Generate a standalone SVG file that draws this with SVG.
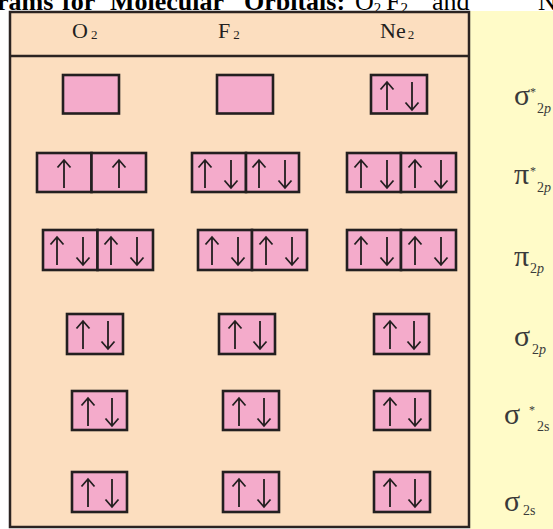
<svg xmlns="http://www.w3.org/2000/svg" xmlns:xlink="http://www.w3.org/1999/xlink" width="553" height="529" viewBox="0 0 553 529">
<style>
.orb{fill:#f4abcb;stroke:#231f20;stroke-width:2.6}
.ar{fill:none;stroke:#231f20;stroke-width:1.8;stroke-linejoin:miter}
.hd{font-family:"Liberation Serif",serif;font-size:22px;fill:#231f20}
.hs{font-size:13px}
.lb{font-family:"Liberation Serif",serif;font-size:30px;fill:#3a3a3a}
.sb{font-family:"Liberation Serif",serif;font-size:14px;fill:#3a3a3a}
.st{font-family:"Liberation Serif",serif;font-size:12px;fill:#3a3a3a}
.tt{font-family:"Liberation Serif",serif;font-size:26px;fill:#000}
</style>
<defs>
<path id="up" class="ar" d="M0,-14 V14 M-6.5,-6.5 L0,-14 L6.5,-6.5"/>
<path id="dn" class="ar" d="M0,-14 V14 M-6.5,6.5 L0,14 L6.5,6.5"/>
</defs>
<rect x="0" y="0" width="553" height="529" fill="#ffffff"/>
<g id="title">
<text class="tt" y="10"><tspan x="-3" font-weight="bold">rams</tspan><tspan x="62" font-weight="bold">for</tspan><tspan x="110" font-weight="bold">Molecular</tspan><tspan x="244" font-weight="bold">Orbitals:</tspan><tspan x="355">O</tspan><tspan font-size="15" dy="3">2</tspan><tspan x="386" dy="-3">F</tspan><tspan font-size="15" dy="3">2</tspan><tspan x="432" dy="-3">and</tspan><tspan x="538">N</tspan></text>
</g>
<g id="panel">
<rect x="470" y="11" width="83" height="518" fill="#fffbc8"/>
</g>
<g id="table">
<rect x="10" y="12" width="459" height="515" fill="#fcdebf" stroke="#2b2321" stroke-width="2.5"/>
<line x1="10" y1="56" x2="469" y2="56" stroke="#2b2321" stroke-width="2.5"/>
</g>
<g id="headers">
<text class="hd" x="72" y="38">O<tspan class="hs" dx="3" dy="1">2</tspan></text>
<text class="hd" x="218" y="38">F<tspan class="hs" dx="3" dy="1">2</tspan></text>
<text class="hd" x="380" y="38">Ne<tspan class="hs" dx="2" dy="1">2</tspan></text>
</g>
<g id="row-s2p-star">
<rect class="orb" x="63" y="75" width="56" height="38.5"/>
<rect class="orb" x="217" y="75" width="56" height="38.5"/>
<rect class="orb" x="371" y="75" width="56" height="38.5"/>
<use xlink:href="#up" x="387" y="96"/><use xlink:href="#dn" x="412" y="96"/>
</g>
<g id="row-p2p-star">
<rect class="orb" x="37" y="153" width="54.5" height="39"/><rect class="orb" x="91.5" y="153" width="54.5" height="39"/>
<use xlink:href="#up" x="64" y="174"/><use xlink:href="#up" x="119" y="174"/>
<rect class="orb" x="192" y="153" width="54" height="39"/><rect class="orb" x="246" y="153" width="53" height="39"/>
<use xlink:href="#up" x="205" y="174"/><use xlink:href="#dn" x="231" y="174"/><use xlink:href="#up" x="259" y="174"/><use xlink:href="#dn" x="285" y="174"/>
<rect class="orb" x="347" y="153" width="54" height="39"/><rect class="orb" x="401" y="153" width="55" height="39"/>
<use xlink:href="#up" x="361" y="174"/><use xlink:href="#dn" x="387" y="174"/><use xlink:href="#up" x="415" y="174"/><use xlink:href="#dn" x="441" y="174"/>
</g>
<g id="row-p2p">
<rect class="orb" x="43" y="230" width="54.5" height="40"/><rect class="orb" x="97.5" y="230" width="55.5" height="40"/>
<use xlink:href="#up" x="57" y="251"/><use xlink:href="#dn" x="83" y="251"/><use xlink:href="#up" x="111" y="251"/><use xlink:href="#dn" x="137" y="251"/>
<rect class="orb" x="198" y="230" width="54" height="40"/><rect class="orb" x="252" y="230" width="55" height="40"/>
<use xlink:href="#up" x="212" y="251"/><use xlink:href="#dn" x="238" y="251"/><use xlink:href="#up" x="266" y="251"/><use xlink:href="#dn" x="292" y="251"/>
<rect class="orb" x="347" y="230" width="54" height="40"/><rect class="orb" x="401" y="230" width="55" height="40"/>
<use xlink:href="#up" x="361" y="251"/><use xlink:href="#dn" x="387" y="251"/><use xlink:href="#up" x="415" y="251"/><use xlink:href="#dn" x="441" y="251"/>
</g>
<g id="row-s2p">
<rect class="orb" x="67" y="314" width="56" height="40"/>
<use xlink:href="#up" x="83" y="335"/><use xlink:href="#dn" x="108" y="335"/>
<rect class="orb" x="219" y="314" width="56" height="40"/>
<use xlink:href="#up" x="235" y="335"/><use xlink:href="#dn" x="260" y="335"/>
<rect class="orb" x="374" y="314" width="55" height="40"/>
<use xlink:href="#up" x="390" y="335"/><use xlink:href="#dn" x="414" y="335"/>
</g>
<g id="row-s2s-star">
<rect class="orb" x="72" y="391" width="55" height="39"/>
<use xlink:href="#up" x="88" y="412"/><use xlink:href="#dn" x="112" y="412"/>
<rect class="orb" x="223" y="391" width="56" height="39"/>
<use xlink:href="#up" x="239" y="412"/><use xlink:href="#dn" x="264" y="412"/>
<rect class="orb" x="374" y="391" width="56" height="39"/>
<use xlink:href="#up" x="390" y="412"/><use xlink:href="#dn" x="415" y="412"/>
</g>
<g id="row-s2s">
<rect class="orb" x="72" y="472" width="55" height="40"/>
<use xlink:href="#up" x="88" y="493"/><use xlink:href="#dn" x="112" y="493"/>
<rect class="orb" x="223" y="472" width="56" height="40"/>
<use xlink:href="#up" x="239" y="493"/><use xlink:href="#dn" x="264" y="493"/>
<rect class="orb" x="374" y="472" width="56" height="40"/>
<use xlink:href="#up" x="390" y="493"/><use xlink:href="#dn" x="415" y="493"/>
</g>
<g id="labels">
<text class="lb" x="514" y="105">σ</text><text class="st" x="530" y="96">*</text><text class="sb" x="537" y="113">2<tspan font-style="italic">p</tspan></text>
<text class="lb" x="514" y="184">π</text><text class="st" x="530" y="175">*</text><text class="sb" x="537" y="192">2<tspan font-style="italic">p</tspan></text>
<text class="lb" x="514" y="266">π</text><text class="sb" x="530" y="273">2<tspan font-style="italic">p</tspan></text>
<text class="lb" x="514" y="346">σ</text><text class="sb" x="532" y="354">2<tspan font-style="italic">p</tspan></text>
<text class="lb" x="504" y="424">σ</text><text class="st" x="529" y="414">*</text><text class="sb" x="537" y="431">2s</text>
<text class="lb" x="504" y="511">σ</text><text class="sb" x="523" y="515">2s</text>
</g>
</svg>
